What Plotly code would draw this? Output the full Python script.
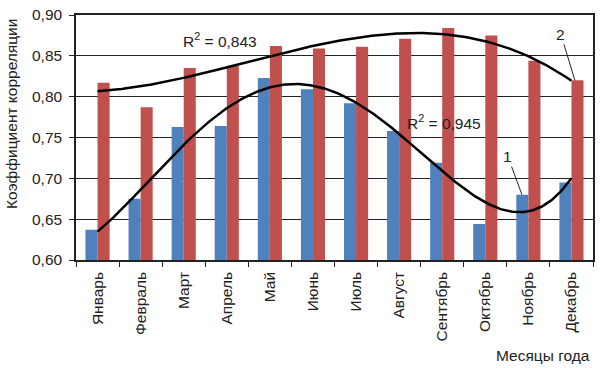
import numpy as np
import plotly.graph_objects as go

months = ["Январь", "Февраль", "Март", "Апрель", "Май", "Июнь", "Июль",
          "Август", "Сентябрь", "Октябрь", "Ноябрь", "Декабрь"]
series1 = [0.637, 0.675, 0.763, 0.764, 0.823, 0.809, 0.792, 0.758, 0.719, 0.644, 0.680, 0.695]
series2 = [0.817, 0.787, 0.835, 0.838, 0.862, 0.859, 0.861, 0.871, 0.884, 0.875, 0.844, 0.820]
r2_labels = ["R<sup>2</sup> = 0,945", "R<sup>2</sup> = 0,843"]
yticks = [0.60, 0.65, 0.70, 0.75, 0.80, 0.85, 0.90]

FONT = "Liberation Sans, Arial, sans-serif"
BLUE = "#4F81BD"
RED = "#C0504D"
TXT = "#222"
FS = 15.5

L, R, T, B = 76, 8, 15, 108
W, H = 601, 368
PW, PH = W - L - R, H - T - B


def px(x):
    return (x - L) / PW


def py(y):
    return (H - B - y) / PH


idx = np.arange(len(months))
xs = np.linspace(0, len(months) - 1, 300)
fit1 = np.polyval(np.polyfit(idx, series1, 4), xs)
fit2 = np.polyval(np.polyfit(idx, series2, 3), xs)

fig = go.Figure()
fig.add_trace(go.Bar(x=months, y=series1, marker=dict(color=BLUE, line=dict(width=0)), name="1"))
fig.add_trace(go.Bar(x=months, y=series2, marker=dict(color=RED, line=dict(width=0)), name="2"))
fig.add_trace(go.Scatter(x=xs, y=fit1, mode="lines", line=dict(color="black", width=2.5),
                         xaxis="x2", hoverinfo="skip"))
fig.add_trace(go.Scatter(x=xs, y=fit2, mode="lines", line=dict(color="black", width=2.5),
                         xaxis="x2", hoverinfo="skip"))

fig.update_layout(
    width=W, height=H,
    margin=dict(l=L, r=R, t=T, b=B, autoexpand=False),
    paper_bgcolor="white", plot_bgcolor="white",
    showlegend=False,
    barmode="group", bargap=0.44, bargroupgap=0,
    separators=", ",
    font=dict(family=FONT, size=FS, color=TXT),
    xaxis=dict(type="category", tickson="boundaries", ticks="outside", ticklen=5,
               tickcolor=TXT, tickangle=-90, showline=True, linecolor=TXT,
               linewidth=1.5, mirror=True, showgrid=False, automargin=False,
               ticklabelstandoff=4, tickfont=dict(size=FS, color=TXT)),
    xaxis2=dict(overlaying="x", range=[-0.5, len(months) - 0.5], visible=False),
    yaxis=dict(range=[0.60, 0.90], tickvals=yticks, tickformat=".2f", ticks="outside",
               ticklen=5, tickcolor=TXT, showline=True, linecolor=TXT, linewidth=1.5,
               mirror=True, showgrid=True, gridcolor=TXT, gridwidth=1.2, automargin=False,
               ticklabelstandoff=4, tickfont=dict(size=FS, color=TXT)),
    annotations=[
        dict(text="Коэффициент корреляции", xref="paper", yref="paper",
             x=px(12), y=py(114), textangle=-90, xanchor="center", yanchor="middle",
             showarrow=False, font=dict(size=FS, color=TXT)),
        dict(text=r2_labels[1], xref="paper", yref="paper", x=px(181),
             y=py(40), xanchor="left", yanchor="middle", showarrow=False,
             font=dict(size=FS, color=TXT)),
        dict(text=r2_labels[0], xref="paper", yref="paper", x=px(405),
             y=py(122), xanchor="left", yanchor="middle", showarrow=False,
             font=dict(size=FS, color=TXT)),
        dict(text="1", xref="x2", yref="y", x=9.85, y=0.680, ax=-14, ay=-38,
             showarrow=True, arrowhead=0, arrowwidth=1, arrowcolor=TXT,
             font=dict(size=FS, color=TXT)),
        dict(text="2", xref="x2", yref="y", x=11.08, y=0.820, ax=-14, ay=-46,
             showarrow=True, arrowhead=0, arrowwidth=1, arrowcolor=TXT,
             font=dict(size=FS, color=TXT)),
        dict(text="Месяцы года", xref="paper", yref="paper", x=px(592), y=py(355),
             xanchor="right", yanchor="middle", showarrow=False,
             font=dict(size=FS, color=TXT)),
    ],
)

fig.write_html("out.html", config={"displayModeBar": False},
               post_script="document.body.style.margin='0';")
